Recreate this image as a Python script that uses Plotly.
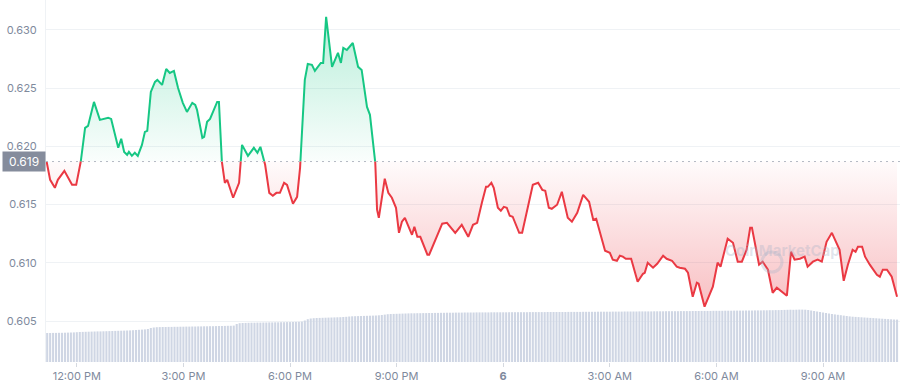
import datetime as dt
import plotly.graph_objects as go

# ---------------- data ----------------
minutes_after_noon = [
    -51, -45, -37, -32, -21, -15, -8, -1, 6, 14, 19, 29, 39, 48, 53, 58, 65, 70, 75, 80,
    85, 88, 93, 98, 103, 110, 115, 119, 125, 132, 136, 144, 151, 157, 164, 171, 179, 186, 195, 200,
    203, 212, 215, 220, 225, 237, 240, 245, 250, 254, 264, 274, 279, 289, 299, 305, 310, 318, 325, 331,
    337, 343, 350, 355, 365, 372, 377, 385, 390, 397, 402, 407, 412, 416, 421, 431, 441, 446, 450, 456,
    466, 475, 481, 490, 495, 504, 507, 510, 520, 526, 532, 539, 544, 549, 554, 566, 570, 575, 580, 592,
    595, 605, 617, 625, 639, 650, 661, 669, 676, 684, 691, 694, 700, 704, 711, 716, 721, 726, 731, 736,
    747, 752, 770, 779, 786, 791, 797, 802, 811, 819, 829, 836, 845, 855, 865, 872, 877, 892, 900, 905,
    912, 917, 922, 927, 936, 947, 956, 959, 964, 973, 980, 990, 996, 1005, 1013, 1018, 1027, 1032, 1040, 1047,
    1050, 1060, 1074, 1082, 1087, 1099, 1108, 1116, 1123, 1131, 1137, 1140, 1152, 1158, 1167, 1175, 1182, 1199, 1206, 1212,
    1221, 1229, 1234, 1243, 1251, 1258, 1266, 1275, 1288, 1295, 1302, 1310, 1315, 1319, 1326, 1331, 1339, 1351, 1356, 1361,
    1368, 1376, 1385,
]

prices = [
    0.61870, 0.61713, 0.61644, 0.61713, 0.61790, 0.61730, 0.61670, 0.61670, 0.61842, 0.62159,
    0.62176, 0.62382, 0.62228, 0.62236, 0.62245, 0.62236, 0.62099, 0.61988, 0.62065, 0.61953,
    0.61928, 0.61953, 0.61919, 0.61945, 0.61919, 0.62013, 0.62125, 0.62134, 0.62468, 0.62554,
    0.62571, 0.62528, 0.62665, 0.62631, 0.62648, 0.62502, 0.62374, 0.62296, 0.62374, 0.62357,
    0.62314, 0.62073, 0.62082, 0.62211, 0.62236, 0.62382, 0.62382, 0.61867, 0.61687, 0.61713,
    0.61559, 0.61687, 0.62013, 0.61919, 0.61988, 0.61945, 0.61996, 0.61842, 0.61601, 0.61576,
    0.61601, 0.61601, 0.61687, 0.61670, 0.61507, 0.61567, 0.61816, 0.62571, 0.62708, 0.62700,
    0.62648, 0.62683, 0.62717, 0.62717, 0.63112, 0.62683, 0.62803, 0.62717, 0.62846, 0.62828,
    0.62888, 0.62683, 0.62657, 0.62339, 0.62271, 0.61859, 0.61456, 0.61387, 0.61722, 0.61601,
    0.61559, 0.61473, 0.61258, 0.61353, 0.61387, 0.61241, 0.61310, 0.61224, 0.61224, 0.61070,
    0.61070, 0.61198, 0.61336, 0.61344, 0.61258, 0.61327, 0.61224, 0.61327, 0.61344, 0.61516,
    0.61653, 0.61653, 0.61687, 0.61644, 0.61473, 0.61447, 0.61481, 0.61473, 0.61404, 0.61396,
    0.61258, 0.61258, 0.61670, 0.61687, 0.61627, 0.61619, 0.61473, 0.61464, 0.61499, 0.61610,
    0.61387, 0.61353, 0.61430, 0.61584, 0.61524, 0.61370, 0.61378, 0.61104, 0.61087, 0.61027,
    0.61018, 0.61061, 0.61053, 0.61035, 0.61035, 0.60838, 0.60906, 0.60915, 0.61001, 0.60958,
    0.60992, 0.61061, 0.61035, 0.61018, 0.60967, 0.60958, 0.60949, 0.60915, 0.60709, 0.60829,
    0.60821, 0.60623, 0.60795, 0.61001, 0.60967, 0.61207, 0.61172, 0.61010, 0.61010, 0.61112,
    0.61301, 0.61301, 0.60984, 0.61010, 0.60941, 0.60743, 0.60786, 0.60718, 0.61095, 0.61027,
    0.61035, 0.61053, 0.60967, 0.61010, 0.61027, 0.61010, 0.61181, 0.61258, 0.61112, 0.60846,
    0.60984, 0.61112, 0.61095, 0.61138, 0.61138, 0.61053, 0.60984, 0.60898, 0.60881, 0.60941,
    0.60941, 0.60881, 0.60709,
]

# 24h volume, one bar every 5 minutes (arbitrary units)
volume_24h = [
    290, 290, 291, 291, 292, 292, 293, 294, 295, 296, 298, 300,
    301, 302, 303, 304, 305, 306, 306, 307, 308, 309, 310, 311,
    312, 313, 314, 315, 316, 318, 320, 322, 324, 326, 330, 340,
    345, 348, 349, 350, 350, 351, 351, 352, 352, 353, 353, 354,
    354, 355, 355, 356, 356, 357, 357, 358, 358, 359, 360, 360,
    361, 362, 362, 364, 380, 388, 390, 391, 392, 393, 393, 394,
    394, 395, 395, 396, 396, 397, 397, 398, 398, 399, 399, 400,
    401, 402, 404, 415, 428, 435, 438, 440, 441, 442, 443, 444,
    445, 446, 447, 448, 450, 452, 455, 457, 458, 459, 460, 461,
    462, 463, 464, 465, 467, 470, 474, 478, 480, 481, 482, 483,
    484, 485, 486, 487, 487, 488, 488, 489, 489, 490, 490, 491,
    491, 492, 492, 493, 493, 493, 494, 494, 494, 495, 495, 495,
    495, 496, 496, 496, 496, 496, 497, 497, 497, 497, 497, 497,
    498, 498, 498, 498, 498, 498, 498, 499, 499, 499, 499, 499,
    499, 500, 500, 500, 500, 500, 500, 500, 501, 501, 501, 501,
    501, 502, 502, 502, 502, 502, 503, 503, 503, 503, 503, 504,
    504, 504, 504, 505, 505, 505, 505, 505, 506, 506, 506, 506,
    506, 507, 507, 507, 507, 508, 508, 508, 508, 508, 509, 509,
    509, 509, 510, 510, 510, 511, 511, 511, 511, 512, 512, 512,
    512, 513, 513, 513, 514, 514, 514, 514, 515, 515, 515, 516,
    516, 516, 517, 517, 518, 518, 519, 519, 520, 521, 522, 523,
    522, 523, 524, 524, 523, 520, 515, 510, 505, 500, 495, 490,
    485, 480, 476, 472, 468, 464, 460, 456, 453, 451, 449, 447,
    445, 443, 441, 439, 437, 435, 433, 431, 429, 427, 425, 424,
]

tick_hours_after_noon = [0, 3, 6, 9, 12, 15, 18, 21]
tick_labels = ["12:00 PM", "3:00 PM", "6:00 PM", "9:00 PM", "<b>6</b>", "3:00 AM", "6:00 AM", "9:00 AM"]
price_ticks = [0.605, 0.610, 0.615, 0.620, 0.625, 0.630]

assert len(minutes_after_noon) == len(prices), (len(minutes_after_noon), len(prices))
assert len(volume_24h) == 288, len(volume_24h)

GREEN = "#16c784"
RED = "#ea3943"
GREY = "#808a9d"

noon = dt.datetime(2023, 6, 5, 12, 0)
times = [noon + dt.timedelta(minutes=m) for m in minutes_after_noon]
vol_times = [noon + dt.timedelta(minutes=-50 + 5 * i) for i in range(len(volume_24h))]
base = prices[0]

# split the series at crossings of the opening price (for colouring only)
aug_t, aug_p = [times[0]], [prices[0]]
for i in range(1, len(prices)):
    p0, p1 = prices[i - 1], prices[i]
    if (p0 - base) * (p1 - base) < 0:
        f = (base - p0) / (p1 - p0)
        aug_t.append(times[i - 1] + (times[i] - times[i - 1]) * f)
        aug_p.append(base)
    aug_t.append(times[i])
    aug_p.append(p1)

upper = [max(p, base) for p in aug_p]
lower = [min(p, base) for p in aug_p]
green_line = [p if p >= base else None for p in aug_p]
red_line = [p if p <= base else None for p in aug_p]
base_line = [base] * len(aug_p)

fig = go.Figure()

fig.add_trace(go.Bar(
    x=vol_times, y=volume_24h, yaxis="y2",
    marker=dict(color="#cfd6e4", line=dict(width=0)),
    hoverinfo="skip", showlegend=False,
))

fig.add_trace(go.Scatter(x=aug_t, y=base_line, mode="lines", line=dict(width=0),
                         hoverinfo="skip", showlegend=False))
fig.add_trace(go.Scatter(
    x=aug_t, y=upper, mode="lines", line=dict(width=0), fill="tonexty",
    fillgradient=dict(type="vertical", start=base, stop=max(prices),
                      colorscale=[[0, "rgba(22,199,132,0.02)"], [1, "rgba(22,199,132,0.30)"]]),
    hoverinfo="skip", showlegend=False,
))
fig.add_trace(go.Scatter(x=aug_t, y=base_line, mode="lines", line=dict(width=0),
                         hoverinfo="skip", showlegend=False))
fig.add_trace(go.Scatter(
    x=aug_t, y=lower, mode="lines", line=dict(width=0), fill="tonexty",
    fillgradient=dict(type="vertical", start=min(prices), stop=base,
                      colorscale=[[0, "rgba(234,57,67,0.32)"], [1, "rgba(234,57,67,0.02)"]]),
    hoverinfo="skip", showlegend=False,
))
fig.add_trace(go.Scatter(x=aug_t, y=green_line, mode="lines",
                         line=dict(color=GREEN, width=2), connectgaps=False, showlegend=False))
fig.add_trace(go.Scatter(x=aug_t, y=red_line, mode="lines",
                         line=dict(color=RED, width=2), connectgaps=False, showlegend=False))

# dotted line at the opening price
fig.add_shape(type="line", xref="paper", x0=0, x1=1, yref="y", y0=base, y1=base,
              line=dict(color="#b4b9c4", width=1, dash="2px,4px"), layer="above")

# current/open price label
fig.add_annotation(xref="paper", x=0, xanchor="right", yref="y", y=base, yanchor="middle",
                   text=f"{base:.3f}", showarrow=False, bgcolor="#858c9c",
                   font=dict(color="white", size=12, family="Inter"),
                   width=40, height=17, borderpad=1, xshift=0)

# faint watermark
fig.add_shape(type="circle", xref="paper", yref="paper",
              x0=0.8384, x1=0.8618, y0=0.2486, y1=0.3039,
              line=dict(color="rgba(170,180,200,0.35)", width=3))
fig.add_annotation(xref="paper", yref="paper", x=0.932, y=0.276, text="<b>CoinMarketCap</b>",
                   showarrow=False, font=dict(size=15, color="rgba(170,180,200,0.35)", family="Inter"))

fig.update_layout(
    width=900, height=388,
    margin=dict(l=46, r=0, t=0, b=26),
    paper_bgcolor="white", plot_bgcolor="white",
    font=dict(family="Inter", size=11, color=GREY),
    bargap=0.3,
    showlegend=False,
    xaxis=dict(
        type="date",
        range=[noon - dt.timedelta(minutes=52), noon + dt.timedelta(minutes=1390)],
        tickvals=[noon + dt.timedelta(hours=h) for h in tick_hours_after_noon],
        ticktext=tick_labels,
        ticks="outside", ticklen=4, tickcolor="#d5d9e0",
        showgrid=False, zeroline=False, showline=False,
        tickfont=dict(size=11, color=GREY),
    ),
    yaxis=dict(
        range=[0.601484, 0.632573],
        tickvals=price_ticks, tickformat=".3f",
        showgrid=True, gridcolor="#eff2f5", zeroline=False,
        showline=True, linecolor="#eff2f5",
        tickfont=dict(size=11, color=GREY),
        ticklabelstandoff=6,
    ),
    yaxis2=dict(overlaying="y", range=[0, 3620], visible=False),
)

fig.write_html("out.html")
